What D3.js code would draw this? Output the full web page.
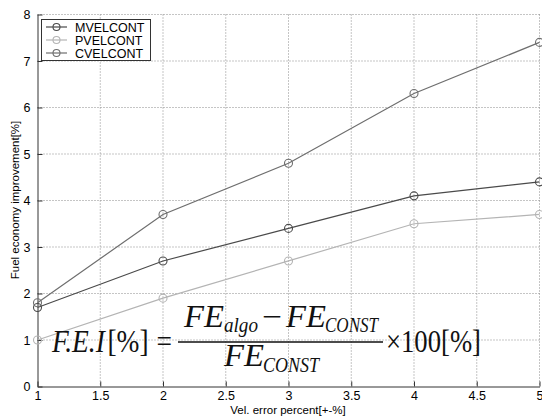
<!DOCTYPE html>
<html>
<head>
<meta charset="utf-8">
<script src="https://cdn.jsdelivr.net/npm/d3@7"></script>
<style>
  html, body { margin: 0; padding: 0; background: #fff; }
  svg { display: block; }
  .tick text { font-family: "Liberation Sans", Arial, sans-serif; font-size: 12.5px; fill: #000; }
</style>
</head>
<body>
<svg id="chart" width="542" height="417"></svg>
<script>
// Velocity error levels (x) and fuel economy improvement per controller (y, %)
const velError = [1, 2, 3, 4, 5];
const mvelcont = [1.7, 2.7, 3.4, 4.1, 4.4];
const pvelcont = [1.0, 1.9, 2.7, 3.5, 3.7];
const cvelcont = [1.8, 3.7, 4.8, 6.3, 7.4];
const seriesNames = ["MVELCONT", "PVELCONT", "CVELCONT"];
const seriesColors = ["#4a4a4a", "#b4b4b4", "#6e6e6e"];
const xTicks = [1, 1.5, 2, 2.5, 3, 3.5, 4, 4.5, 5];
const yTicks = [0, 1, 2, 3, 4, 5, 6, 7, 8];

const svg = d3.select("#chart");
const plotLeft = 37.5, plotRight = 539.5, plotTop = 14.5, plotBottom = 386.5;

const x = d3.scaleLinear().domain([1, 5]).range([plotLeft, plotRight]);
const y = d3.scaleLinear().domain([0, 8]).range([plotBottom, plotTop]);

// dotted grid, including the top and right edges
const grid = svg.append("g").attr("stroke", "#8a8a8a").attr("stroke-width", 1)
  .attr("stroke-dasharray", "1,2");
xTicks.slice(1).forEach(v => {
  grid.append("line").attr("x1", x(v)).attr("x2", x(v)).attr("y1", plotTop).attr("y2", plotBottom);
});
yTicks.slice(1).forEach(v => {
  grid.append("line").attr("x1", plotLeft).attr("x2", plotRight).attr("y1", y(v)).attr("y2", y(v));
});

// axes with inward ticks
const xAxis = svg.append("g").attr("transform", `translate(0,${plotBottom})`)
  .call(d3.axisBottom(x).tickValues(xTicks).tickFormat(d3.format("")).tickSizeInner(-5).tickSizeOuter(0).tickPadding(5));
const yAxis = svg.append("g").attr("transform", `translate(${plotLeft},0)`)
  .call(d3.axisLeft(y).tickValues(yTicks).tickFormat(d3.format("d")).tickSizeInner(-5).tickSizeOuter(0).tickPadding(7));
[xAxis, yAxis].forEach(a => {
  a.select(".domain").attr("stroke", "#333");
  a.selectAll(".tick line").attr("stroke", "#333");
});

// axis titles
svg.append("text").attr("x", 288).attr("y", 414).attr("text-anchor", "middle")
  .style("font-family", "Liberation Sans, Arial, sans-serif").style("font-size", "11.5px")
  .text("Vel. error percent[+-%]");
svg.append("text").attr("transform", "translate(19,200) rotate(-90)").attr("text-anchor", "middle")
  .style("font-family", "Liberation Sans, Arial, sans-serif").style("font-size", "11.5px")
  .text("Fuel economy improvement[%]");

// series lines with circle markers
const allSeries = [mvelcont, pvelcont, cvelcont];
const line = d3.line().x((d, i) => x(velError[i])).y(d => y(d));
[1, 0, 2].forEach(k => {
  const g = svg.append("g");
  g.append("path").datum(allSeries[k]).attr("d", line)
    .attr("fill", "none").attr("stroke", seriesColors[k]).attr("stroke-width", 1.2);
  g.selectAll("circle").data(allSeries[k]).enter().append("circle")
    .attr("cx", (d, i) => x(velError[i])).attr("cy", d => y(d)).attr("r", 4)
    .attr("fill", "none").attr("stroke", seriesColors[k]).attr("stroke-width", 1.1);
});

// legend
const lg = svg.append("g");
lg.append("rect").attr("x", 41.5).attr("y", 19.5).attr("width", 109).attr("height", 41)
  .attr("fill", "#fff").attr("stroke", "#333").attr("stroke-width", 1);
seriesNames.forEach((name, i) => {
  const yy = 27 + i * 13;
  lg.append("line").attr("x1", 46).attr("x2", 67).attr("y1", yy).attr("y2", yy)
    .attr("stroke", seriesColors[i]).attr("stroke-width", 1.2);
  lg.append("circle").attr("cx", 56.5).attr("cy", yy).attr("r", 3.5)
    .attr("fill", "none").attr("stroke", seriesColors[i]).attr("stroke-width", 1.1);
  lg.append("text").attr("x", 75).attr("y", yy + 4.5)
    .style("font-family", "Liberation Sans, Arial, sans-serif").style("font-size", "12.5px")
    .text(name);
});

// fuel economy improvement formula
const eq = svg.append("g").style("font-family", "Liberation Serif, 'DejaVu Serif', serif").attr("fill", "#111");
const it = "italic";
function t(xx, yy, str, size, style, len) {
  const el = eq.append("text").attr("x", xx).attr("y", yy).style("font-size", size + "px")
    .style("font-style", style || "normal").text(str);
  if (len) el.attr("textLength", len).attr("lengthAdjust", "spacingAndGlyphs");
  return el;
}
// left-hand side "F.E.I[%] =" as one text run
const lhs = eq.append("text").attr("x", 52).attr("y", 352).style("font-size", "31px")
  .attr("textLength", 120).attr("lengthAdjust", "spacingAndGlyphs");
lhs.append("tspan").style("font-style", it).text("F.E.I");
lhs.append("tspan").attr("dx", 3).text("[%]");
lhs.append("tspan").attr("dx", 9).text("=");
// numerator
t(184, 327, "FE", 31, it, 40);
t(224, 332, "algo", 20, it, 34);
t(262, 327, "\u2212", 31, "normal", 20);
t(286, 327, "FE", 31, it, 40);
t(325, 332, "CONST", 20, it, 53);
eq.append("line").attr("x1", 178).attr("x2", 383).attr("y1", 342).attr("y2", 342)
  .attr("stroke", "#111").attr("stroke-width", 1.6);
// denominator
t(224, 366, "FE", 31, it, 40);
t(263, 372, "CONST", 20, it, 56);
t(386, 352, "\u00d7100[%]", 31, "normal", 95);
</script>
</body>
</html>
